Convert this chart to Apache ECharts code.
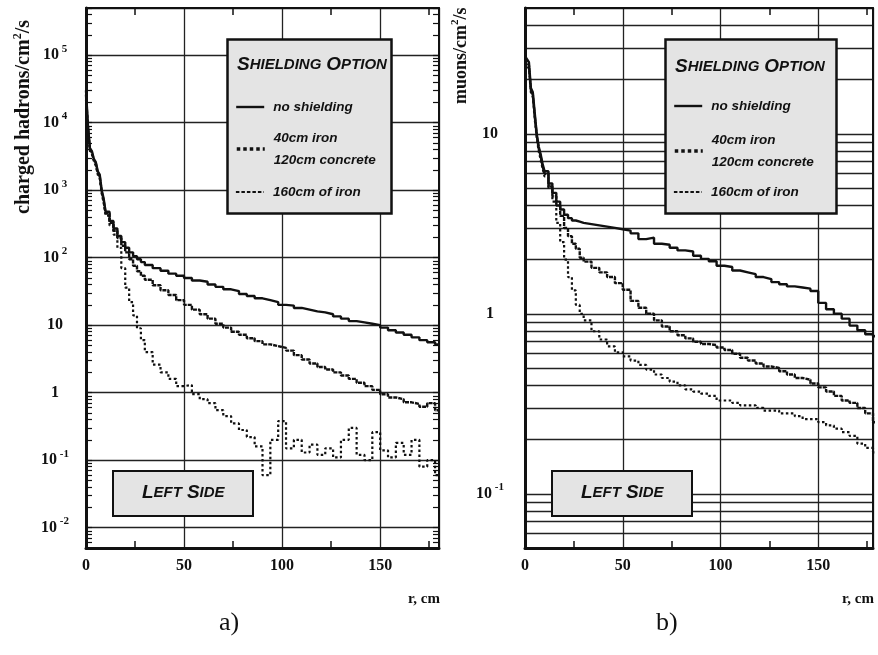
<!DOCTYPE html>
<html><head><meta charset="utf-8">
<script src="https://cdn.jsdelivr.net/npm/echarts@6/dist/echarts.min.js"></script>
<style>html,body{margin:0;padding:0;background:#fff}#c{width:878px;height:655px}</style>
</head><body><div id="c"></div><script>
// ---- data ----
const rBins = [0,1,2,3,4,5,6,7,8,9,10,12,14,16,18,20,22,24,26,28,30,34,38,42,46,50,54,58,62,66,70,74,78,82,86,90,94,98,102,106,110,114,118,122,126,130,134,138,142,146,150,154,158,162,166,170,174,178,180];

const seriesNames = ['no shielding', '40cm iron\n120cm concrete', '160cm of iron'];

// panel a) charged hadrons/cm^2/s
const hadNoShield = [30000,9000,4200,3800,2900,2600,1900,1700,1000,750,480,350,270,210,170,140,120,105,95,86,78,70,64,58,54,50,46,44,40,37,34,32,29,27,25,23.5,22,20,19.5,18,17,16,15.5,14.5,13.5,12.5,11.5,11,10.5,10,9.2,8.4,7.8,7.2,6.6,6.0,5.6,5.2,5.2];
const hadIronConcrete = [26000,8500,4000,3600,2800,2500,1800,1600,950,700,450,330,250,195,150,120,95,76,63,54,47,39,33,28,23.5,20,17,14.5,12.5,10.5,9.2,8,7.2,6.4,5.8,5.2,4.9,4.6,4.2,3.6,3.1,2.7,2.4,2.2,2.0,1.8,1.6,1.4,1.25,1.1,0.95,0.85,0.8,0.72,0.68,0.62,0.7,0.55,0.55];
const hadIron160 = [22000,8000,3800,3400,2700,2300,1700,1500,900,650,420,300,220,140,70,36,22,14,9,6,4,2.6,2.0,1.6,1.25,1.3,0.95,0.8,0.7,0.55,0.45,0.35,0.28,0.22,0.16,0.06,0.2,0.38,0.15,0.2,0.13,0.17,0.12,0.15,0.11,0.2,0.3,0.12,0.1,0.26,0.14,0.11,0.18,0.12,0.2,0.08,0.1,0.06,0.06];

// panel b) muons/cm^2/s
const muNoShield = [27,26,25,18,17,13,10,8.5,7.7,6.8,6.2,5.3,4.7,4.2,3.8,3.55,3.4,3.3,3.25,3.2,3.15,3.1,3.05,3.0,2.95,2.9,2.8,2.6,2.65,2.45,2.42,2.33,2.25,2.22,2.1,2.02,1.96,1.85,1.82,1.74,1.7,1.66,1.6,1.56,1.5,1.46,1.42,1.4,1.38,1.34,1.15,1.06,1.0,0.94,0.86,0.81,0.77,0.75,0.75];
const muIronConcrete = [26,25,24,17.5,16.5,12.5,9.8,8.3,7.5,6.6,6.0,5.1,4.5,4.0,3.5,3.0,2.7,2.45,2.3,2.05,1.95,1.8,1.7,1.6,1.48,1.36,1.18,1.08,1.0,0.92,0.85,0.8,0.76,0.73,0.7,0.68,0.67,0.65,0.63,0.6,0.57,0.55,0.53,0.51,0.5,0.48,0.46,0.44,0.43,0.41,0.39,0.37,0.35,0.33,0.32,0.3,0.28,0.25,0.25];
const muIron160 = [25,24,23,17,16,12,9.5,8,7.2,6.4,5.8,5.0,4.2,3.2,2.5,2.0,1.6,1.35,1.12,1.0,0.92,0.8,0.72,0.66,0.61,0.58,0.55,0.52,0.49,0.46,0.44,0.42,0.4,0.38,0.37,0.36,0.35,0.33,0.33,0.32,0.31,0.31,0.3,0.29,0.29,0.28,0.28,0.27,0.26,0.26,0.25,0.24,0.23,0.22,0.21,0.19,0.18,0.17,0.17];

// axis ticks
const xMinorTicks = [25, 75, 125, 175];
const decadesA = [0.001, 0.01, 0.1, 1, 10, 100, 1000, 10000, 100000];
const mantissas = [1, 2, 3, 4, 5, 6, 7, 8, 9];
const gridValsB = [0.05,0.06,0.07,0.08,0.09,0.1,0.2,0.3,0.4,0.5,0.6,0.7,0.8,0.9,1,2,3,4,5,6,7,8,9,10,20,30,40,50];

// ---- chart ----
const SERIF = 'Liberation Serif';
const SANS = 'Liberation Sans';
const INK = '#111';
const BOXFILL = '#e4e4e4';

const minorTicksA = [];
decadesA.forEach(d => mantissas.forEach(m => minorTicksA.push(+(d * m).toPrecision(3))));

function logLabel(v) {
  const l = Math.log10(v);
  const e = Math.round(l);
  if (Math.abs(l - e) > 0.01) return '';
  if (e === 0) return '1';
  if (e === 1) return '10';
  return '10{sup| ' + e + '}';
}
const labelRich = { sup: { fontSize: 11, fontWeight: 'bold', fontFamily: SERIF, color: INK, padding: [0, 0, 13, 0] } };

function mainX(grid, max) {
  return {
    gridIndex: grid, type: 'value', min: 0, max: max, interval: 50, position: 'bottom',
    axisLine: { show: true, onZero: false, lineStyle: { color: INK, width: 3 } },
    axisTick: { show: false },
    axisLabel: { margin: 10, color: INK, fontFamily: SERIF, fontWeight: 'bold', fontSize: 16, showMaxLabel: false },
    splitLine: { show: true, lineStyle: { color: '#222', width: 1.3 } },
    name: 'r, cm', nameLocation: 'end', nameGap: 1,
    nameTextStyle: { color: INK, fontFamily: SERIF, fontWeight: 'bold', fontSize: 15, align: 'right', verticalAlign: 'top', padding: [44, 0, 0, 0] }
  };
}
function tickX(grid, max, pos, lineW) {
  return {
    gridIndex: grid, type: 'value', min: 0, max: max, position: pos,
    axisLine: { show: lineW > 0, onZero: false, lineStyle: { color: INK, width: lineW || 1 } },
    axisTick: { show: true, inside: true, length: 7, customValues: xMinorTicks, lineStyle: { color: INK, width: 1.5 } },
    axisLabel: { show: false }, splitLine: { show: false }
  };
}

const A_MIN = 0.005, A_MAX = 500000, B_MIN = 0.05, B_MAX = 50, B_XMAX = 178;

function mkSeries(name, xi, yi, vals, ls) {
  return {
    name: name, type: 'line', step: 'end', symbol: 'none', xAxisIndex: xi, yAxisIndex: yi,
    data: rBins.map((x, i) => [x, vals[i]]), lineStyle: Object.assign({ color: INK }, ls),
    itemStyle: { color: INK }, emphasis: { disabled: true }, silent: true
  };
}
const lsSolid = { width: 2.4, type: 'solid' };
const lsDots = { width: 2.4, type: [4, 1] };
const lsDash = { width: 2.2, type: [2.5, 2.5] };

const legendLines = [
  { width: 2.4, type: 'solid', color: INK },
  { width: 3.5, type: [3.5, 3], color: INK },
  { width: 1.8, type: [3.5, 2], color: INK }
];
function legendItem(idx, left, top) {
  return {
    left: left, top: top, orient: 'horizontal', data: [seriesNames[idx]], selectedMode: false, z: 10,
    padding: 0, itemWidth: 28, itemHeight: 12,
    itemStyle: { opacity: 0, color: 'transparent', borderWidth: 0 },
    lineStyle: legendLines[idx],
    textStyle: { color: INK, fontFamily: SANS, fontStyle: 'italic', fontWeight: 'bold', fontSize: 13.5, lineHeight: 22, padding: [0, 0, 0, 4] }
  };
}
const capsRich = {
  b: { fontFamily: SANS, fontStyle: 'italic', fontWeight: 'bold', fontSize: 19, color: INK },
  s: { fontFamily: SANS, fontStyle: 'italic', fontWeight: 'bold', fontSize: 15, color: INK }
};
// legend frame with its heading
function legendFrame(left, top, w, h, padLeft, padTop) {
  const tw = 144;
  return {
    text: '{b|S}{s|HIELDING} {b|O}{s|PTION}', left: left, top: top, z: 2,
    backgroundColor: BOXFILL, borderColor: INK, borderWidth: 2.5,
    padding: [padTop, w - tw - padLeft, h - 20 - padTop, padLeft],
    textStyle: { rich: capsRich, lineHeight: 20, width: tw, overflow: 'none' }
  };
}
function sideBox(left, top) {
  return {
    text: '{b|L}{s|EFT} {b|S}{s|IDE}', left: left, top: top,
    backgroundColor: BOXFILL, borderColor: INK, borderWidth: 2,
    padding: [12, 29, 13, 29],
    textStyle: { rich: capsRich, lineHeight: 20, width: 80, align: 'center', overflow: 'none' }
  };
}

const option = {
  animation: false,
  backgroundColor: '#fff',
  grid: [
    { left: 86, top: 8, width: 353, height: 540 },
    { left: 525, top: 8, right: 5, height: 540 }
  ],
  xAxis: [
    mainX(0, 180), tickX(0, 180, 'bottom', 0), tickX(0, 180, 'top', 2),
    mainX(1, B_XMAX), tickX(1, B_XMAX, 'bottom', 0), tickX(1, B_XMAX, 'top', 2)
  ],
  yAxis: [
    { gridIndex: 0, type: 'log', logBase: 10, min: A_MIN, max: A_MAX, position: 'left',
      axisLine: { show: true, onZero: false, lineStyle: { color: INK, width: 3 } },
      axisTick: { show: false },
      axisLabel: { margin: 31, align: 'center', formatter: logLabel, showMinLabel: false, showMaxLabel: false, color: INK, fontFamily: SERIF, fontWeight: 'bold', fontSize: 16, rich: labelRich },
      splitLine: { show: true, lineStyle: { color: '#222', width: 1.3 } } },
    { gridIndex: 0, type: 'log', logBase: 10, min: A_MIN, max: A_MAX, position: 'left',
      axisLine: { show: false }, axisLabel: { show: false }, splitLine: { show: false },
      axisTick: { show: true, inside: true, length: 6, customValues: minorTicksA, lineStyle: { color: INK, width: 1.2 } } },
    { gridIndex: 0, type: 'log', logBase: 10, min: A_MIN, max: A_MAX, position: 'right',
      axisLine: { show: true, onZero: false, lineStyle: { color: INK, width: 2 } }, axisLabel: { show: false }, splitLine: { show: false },
      axisTick: { show: true, inside: true, length: 6, customValues: minorTicksA, lineStyle: { color: INK, width: 1.2 } } },
    { gridIndex: 1, type: 'log', logBase: 10, min: B_MIN, max: B_MAX, position: 'left',
      axisLine: { show: true, onZero: false, lineStyle: { color: INK, width: 3 } },
      axisTick: { show: false, customValues: gridValsB },
      axisLabel: { margin: 35, align: 'center', formatter: logLabel, showMinLabel: false, showMaxLabel: false, color: INK, fontFamily: SERIF, fontWeight: 'bold', fontSize: 16, rich: labelRich },
      splitLine: { show: true, lineStyle: { color: '#222', width: 1.3 } } },
    { gridIndex: 1, type: 'log', logBase: 10, min: B_MIN, max: B_MAX, position: 'right',
      axisLine: { show: true, onZero: false, lineStyle: { color: INK, width: 2 } }, axisLabel: { show: false }, splitLine: { show: false }, axisTick: { show: false } }
  ],
  legend: [
    legendItem(0, 235, 96), legendItem(1, 235, 127), legendItem(2, 235, 181),
    legendItem(0, 673, 95), legendItem(1, 673, 129), legendItem(2, 673, 181)
  ],
  title: [
    legendFrame(227, 39, 159, 175, 10, 16),
    legendFrame(665, 39, 166, 175, 10, 18),
    sideBox(113, 471),
    sideBox(552, 471),
    { text: 'a)', left: 219, top: 610, padding: 0, textStyle: { fontFamily: SERIF, fontWeight: 'normal', fontSize: 26, color: INK } },
    { text: 'b)', left: 656, top: 610, padding: 0, textStyle: { fontFamily: SERIF, fontWeight: 'normal', fontSize: 26, color: INK } }
  ],
  graphic: [
    { type: 'text', x: 24, y: 214, rotation: Math.PI / 2, silent: true,
      style: { text: 'charged hadrons/cm{s|2}/s', fontFamily: SERIF, fontWeight: 'bold', fontSize: 20, fill: INK, align: 'left', verticalAlign: 'middle',
        rich: { s: { fontFamily: SERIF, fontWeight: 'bold', fontSize: 12, fill: INK, padding: [0, 0, 13, 0] } } } },
    { type: 'text', x: 461, y: 104, rotation: Math.PI / 2, silent: true,
      style: { text: 'muons/cm{s|2}/s', fontFamily: SERIF, fontWeight: 'bold', fontSize: 18, fill: INK, align: 'left', verticalAlign: 'middle',
        rich: { s: { fontFamily: SERIF, fontWeight: 'bold', fontSize: 11, fill: INK, padding: [0, 0, 12, 0] } } } }
  ],
  series: [
    mkSeries(seriesNames[0], 0, 0, hadNoShield, lsSolid),
    mkSeries(seriesNames[1], 0, 0, hadIronConcrete, lsDots),
    mkSeries(seriesNames[2], 0, 0, hadIron160, lsDash),
    mkSeries(seriesNames[0], 3, 3, muNoShield, lsSolid),
    mkSeries(seriesNames[1], 3, 3, muIronConcrete, lsDots),
    mkSeries(seriesNames[2], 3, 3, muIron160, lsDash)
  ]
};
const chart = echarts.init(document.getElementById('c'));
chart.setOption(option);
</script></body></html>
